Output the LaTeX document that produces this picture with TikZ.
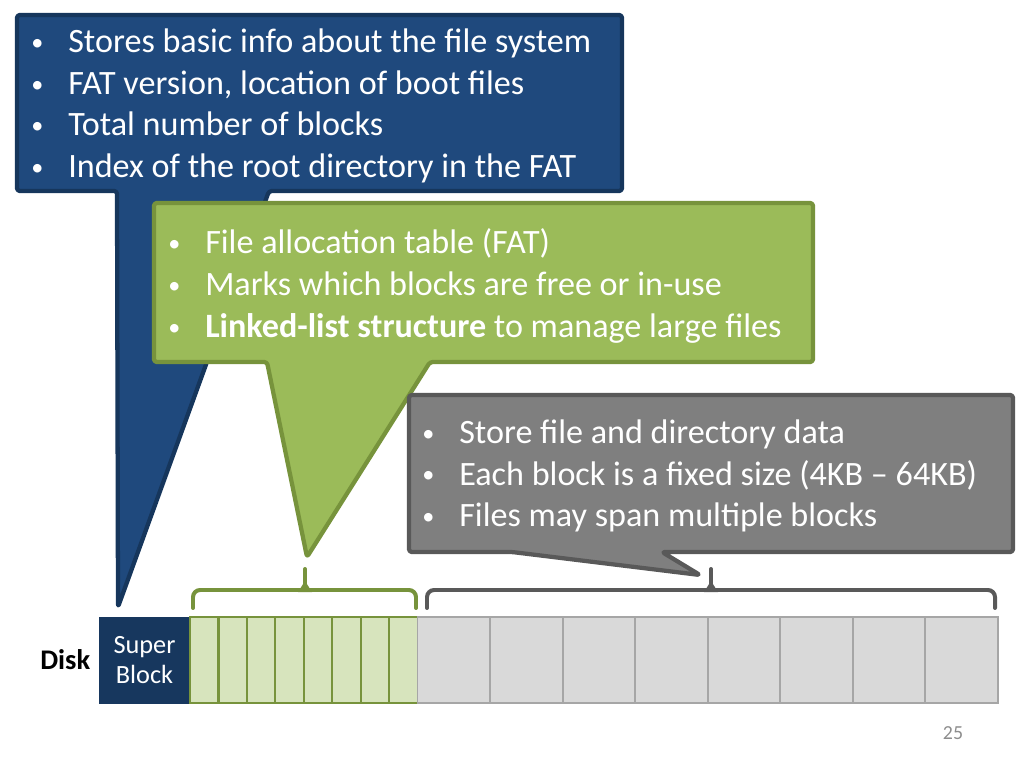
\documentclass[tikz,border=0pt]{standalone}
\usepackage{fontspec}
\setmainfont{Carlito}
\usetikzlibrary{positioning,calc}
\definecolor{sbblue}{RGB}{31,73,125}
\definecolor{sbedge}{RGB}{22,54,92}
\definecolor{sbdark}{RGB}{23,55,94}
\definecolor{fatgreen}{RGB}{155,187,89}
\definecolor{fatedge}{RGB}{119,147,60}
\definecolor{fatlight}{RGB}{215,228,189}
\definecolor{datagray}{RGB}{127,127,127}
\definecolor{dataedge}{RGB}{89,89,89}
\definecolor{datalight}{RGB}{217,217,217}
\definecolor{datablk}{RGB}{166,166,166}
\newcommand{\bitem}{\makebox[26pt][l]{\raisebox{1.5pt}{\fontsize{17}{17}\selectfont\textbullet}}}
\tikzset{
  callout/.style={line width=3pt, rounded corners=2pt, line join=round},
  bullets/.style={text=white, align=left, inner sep=0pt, anchor=west,
    font=\fontsize{24}{29.3}\selectfont},
  brace/.style={line width=2.8pt, line cap=round},
  superblk/.style={fill=sbdark, draw=sbdark, text=white, inner sep=0pt, outer sep=0pt,
    minimum width=64pt, minimum height=60.5pt, align=center,
    font=\fontsize{18.5}{20.6}\selectfont},
  fatblk/.style={fill=fatlight, draw=fatedge, line width=1.5pt, inner sep=0pt, outer sep=0pt,
    minimum width=20pt, minimum height=60.5pt},
  datablk/.style={fill=datalight, draw=datablk, line width=1.2pt, inner sep=0pt, outer sep=0pt,
    minimum width=51pt, minimum height=60.5pt}
}
\begin{document}
\begin{tikzpicture}[x=0.703125pt,y=-0.703125pt]
		\useasboundingbox (0,0) rectangle (1024,768);
		% disk blocks
		\node[superblk,anchor=north west] (sb) at (99,617) {Super\\Block};
		\node[left=6pt of sb,inner sep=0pt,font=\fontsize{20}{24}\selectfont\bfseries] (disk) {Disk};
		\node[fatblk,anchor=north west] (f1) at (sb.north east) {};
		\foreach \i [remember=\i as \j (initially 1)] in {2,...,8}
			\node[fatblk,right=0pt of f\j] (f\i) {};
		\node[datablk,right=0pt of f8] (d1) {};
		\foreach \i [remember=\i as \j (initially 1)] in {2,...,8}
			\node[datablk,right=0pt of d\j] (d\i) {};
		% brace coordinates
		\coordinate (gl) at (193,608);
		\coordinate (gm) at (305,590);
		\coordinate (gr) at (416,608);
		\coordinate (gtip) at (305,569);
		\coordinate (dl) at (427,608);
		\coordinate (dm) at (711,590);
		\coordinate (dr) at (995,608);
		\coordinate (dtip) at (711,569);
		% callout tips
		\coordinate (sbtip) at (118,607);
		\coordinate (fattip) at (307,557);
		\coordinate (datatip) at (700,575);
		% super block callout
		\draw[callout,fill=sbblue,draw=sbedge] (17,15) -- (622,15) -- (622,191) -- (269,191)
			-- (sbtip) -- (117,191) -- (17,191) -- cycle;
		\node[bullets] (sbtext) at (31,106) {\bitem Stores basic info about the file system\\
			\bitem FAT version, location of boot files\\
			\bitem Total number of blocks\\
			\bitem Index of the root directory in the FAT};
		% FAT callout
		\draw[callout,fill=fatgreen,draw=fatedge] (154,203) -- (813,203) -- (813,362) -- (430,362)
			-- (fattip) -- (267,362) -- (154,362) -- cycle;
		\node[bullets] (fattext) at (168,286) {\bitem File allocation table (FAT)\\
			\bitem Marks which blocks are free or in-use\\
			\bitem \textbf{Linked-list structure} to manage large files};
		% data callout
		\draw[callout,fill=datagray,draw=dataedge] (409,395) -- (1013,395) -- (1013,552) -- (662,552)
			-- (datatip) -- (512,552) -- (409,552) -- cycle;
		\node[bullets] (datatext) at (422,476) {\bitem Store file and directory data\\
			\bitem Each block is a fixed size (4KB -- 64KB)\\
			\bitem Files may span multiple blocks};
		% braces
		\draw[brace,fatedge,rounded corners=5pt] (gl) |- (gm) -| (gr);
		\draw[brace,fatedge] (gm) -- (gtip);
		\fill[fatedge] ($(gm)+(-7,2)$) -- ($(gm)+(0,-9)$) -- ($(gm)+(7,2)$) -- cycle;
		\draw[brace,dataedge,rounded corners=5pt] (dl) |- (dm) -| (dr);
		\draw[brace,dataedge] (dm) -- (dtip);
		\fill[dataedge] ($(dm)+(-7,2)$) -- ($(dm)+(0,-9)$) -- ($(dm)+(7,2)$) -- cycle;
		% page number
		\node[text=datablk!85!black,font=\fontsize{14}{16}\selectfont] (page) at (953,733) {25};
\end{tikzpicture}
\end{document}
